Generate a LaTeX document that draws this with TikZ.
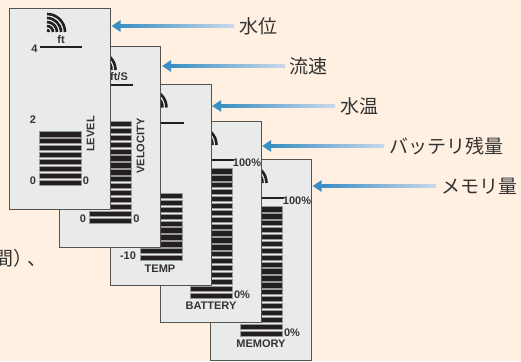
\documentclass[tikz,border=0pt]{standalone}
\usepackage{fontspec}
\setmainfont{Liberation Sans}
\newfontfamily\cjkfont{Noto Sans CJK JP}
\usepackage{tikz}
\usetikzlibrary{arrows.meta,calc}
\definecolor{paper}{HTML}{FFF0E1}
\definecolor{panelgray}{HTML}{E9EBEB}
\definecolor{panelline}{HTML}{55534F}
\definecolor{barblack}{HTML}{231F20}
\definecolor{inkgray}{HTML}{333333}
\definecolor{arrowblue}{HTML}{3A8FC4}
\definecolor{arrowpale}{HTML}{CBD8EA}
\tikzset{
  panelbox/.style={draw=panelline,fill=panelgray,line width=0.9pt,anchor=north west,
    minimum width=101pt,minimum height=201pt,inner sep=0pt},
  tick/.style={font=\bfseries\fontsize{11}{11}\selectfont,text=inkgray,inner sep=0pt},
  kana/.style={font=\cjkfont\fontsize{19}{19}\selectfont,text=inkgray,inner sep=0pt,anchor=west},
  flowline/.style={draw=arrowblue,line width=3pt,shorten <=5pt,-{Triangle[length=9pt,width=11pt]}}
}
% one panel: name, number of bars
\newcommand{\panelbase}[2]{
  \node[panelbox] (#1) at (0,0) {};
  \foreach \r in {2,6,10,14,18}
    \draw [barblack,line width=2.6pt] (38.5,24-\r) arc (90:0:\r pt);
  \draw [barblack,line width=2pt] (31.5,39) -- (73.5,39);
  \foreach \i in {1,...,#2}
    \fill [barblack,draw=black!40,line width=0.4pt] (30.5,171.7-6.9*\i+6.9) rectangle (72.5,177-6.9*\i+6.9);
}
\newcommand{\flowarrow}[2]{
  \draw[flowline] (#1.west) -- (#2);
  \shade [left color=arrowblue,right color=arrowpale] ($(#2)+(9,-1.5)$) rectangle ($(#1.west)+(-5,1.5)$);
}
\begin{document}
\begin{tikzpicture}[x=1pt,y=-1pt]
    \useasboundingbox (0,0) rectangle (521,361);
    \fill [paper] (0,0) rectangle (521,361);
    \node [kana,anchor=east] (cuttext) at (47,258) {間）\hspace{-5pt}、};
    % back to front
    \begin{scope}[shift={(210,159)}]
        \panelbase{memory}{19}
        \node [tick] (memorytop) at (87,41.5) {100\%};
        \node [tick] (memorylow) at (82,174) {0\%};
        \node [tick] (memoryname) at (51,185) {MEMORY};
    \end{scope}
    \begin{scope}[shift={(160,121)}]
        \panelbase{battery}{19}
        \node [tick] (batterytop) at (87,41.5) {100\%};
        \node [tick] (batterylow) at (82,174) {0\%};
        \node [tick] (batteryname) at (51,185) {BATTERY};
    \end{scope}
    \begin{scope}[shift={(110,83.5)}]
        \panelbase{temp}{10}
        \node [tick] (templow) at (18,172.5) {-10};
        \node [tick] (tempname) at (50,185.5) {TEMP};
    \end{scope}
    \begin{scope}[shift={(59,46)}]
        \panelbase{velocity}{15}
        \node [tick] (velocityunit) at (60,31) {ft/S};
        \node [tick] (velocityleft) at (24,172.5) {0};
        \node [tick] (velocityright) at (77.5,173) {0};
        \node [tick,rotate=90] (velocityname) at (81.7,100) {VELOCITY};
    \end{scope}
    \begin{scope}[shift={(8.5,8)}]
        \panelbase{level}{8}
        \node [tick] (levelunit) at (52.5,32) {ft};
        \node [tick] (levelmax) at (26,41) {4};
        \node [tick] (levelmid) at (24.5,112) {2};
        \node [tick] (levelleft) at (24.5,172.5) {0};
        \node [tick] (levelright) at (77.5,173) {0};
        \node [tick,rotate=90] (levelname) at (82,126) {LEVEL};
    \end{scope}
    % labels and their arrows
    \node [kana] (levellbl) at (239,26) {水位};
    \node [kana] (velocitylbl) at (289.5,66) {流速};
    \node [kana] (templbl) at (340,106) {水温};
    \node [kana] (batterylbl) at (389,146) {バッテリ残量};
    \node [kana] (memorylbl) at (441,186) {メモリ量};
    \coordinate (leveltip) at (111.5,26);
    \coordinate (velocitytip) at (162,66);
    \coordinate (temptip) at (212,106);
    \coordinate (batterytip) at (262,146);
    \coordinate (memorytip) at (312.5,186);
    \flowarrow{levellbl}{leveltip}
    \flowarrow{velocitylbl}{velocitytip}
    \flowarrow{templbl}{temptip}
    \flowarrow{batterylbl}{batterytip}
    \flowarrow{memorylbl}{memorytip}
\end{tikzpicture}
\end{document}
